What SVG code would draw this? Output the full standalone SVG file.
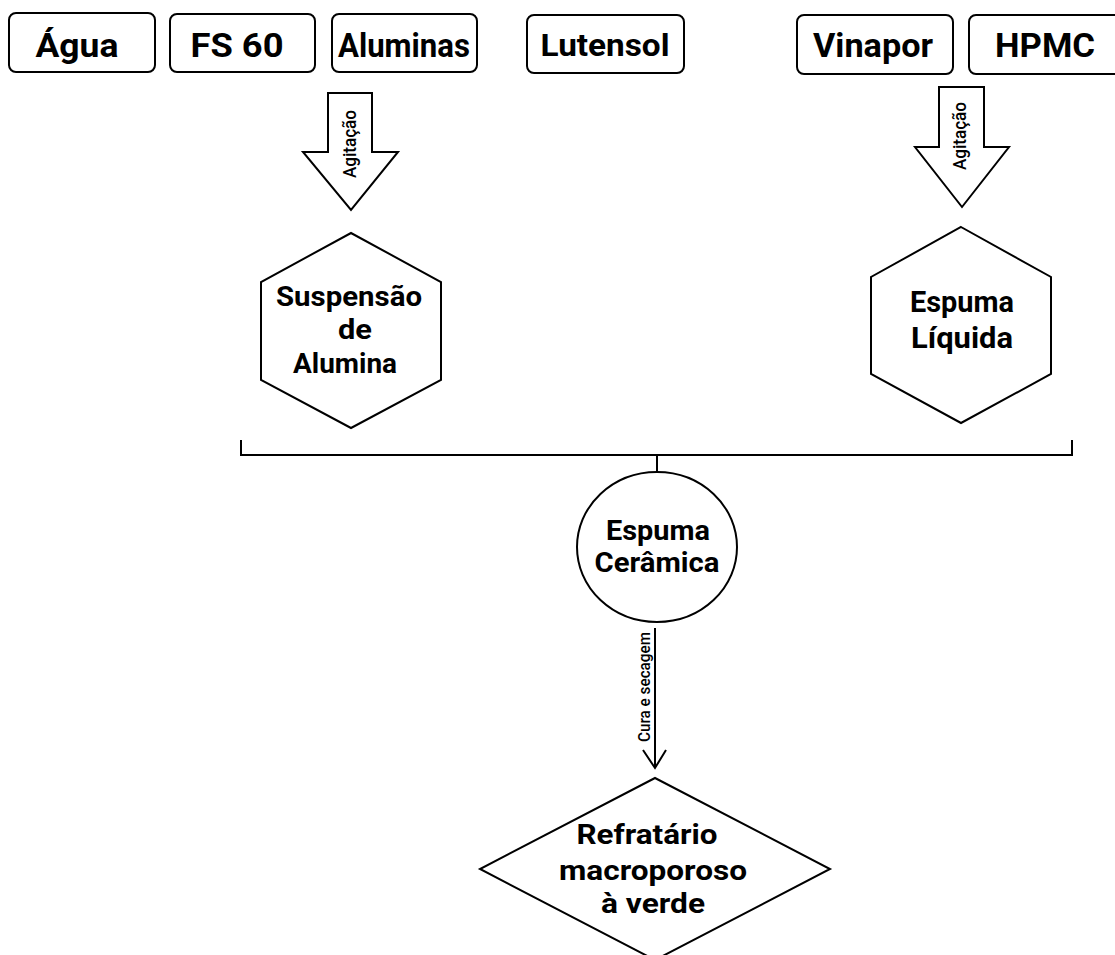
<svg xmlns="http://www.w3.org/2000/svg" width="1115" height="955" viewBox="0 0 1115 955">
<style>
.box{fill:#fff;stroke:#000;stroke-width:2}
.shape{fill:#fff;stroke:#000;stroke-width:2}
.t{font-family:Roboto,"Liberation Sans",Arial,sans-serif;font-weight:bold;fill:#000;text-anchor:middle}
.s{font-family:Roboto,"Liberation Sans",Arial,sans-serif;font-weight:500;fill:#000;text-anchor:middle}
.ln{fill:none;stroke:#000;stroke-width:2}
</style>
<rect width="1115" height="955" fill="#fff"/>
<g id="agua"><rect class="box" x="9" y="13" width="146" height="59" rx="7"/><text class="t" x="77" y="57" font-size="34" textLength="83" lengthAdjust="spacingAndGlyphs">Água</text></g>
<g id="fs60"><rect class="box" x="170" y="14" width="145" height="58" rx="7"/><text class="t" x="237" y="57" font-size="34" textLength="93" lengthAdjust="spacingAndGlyphs">FS 60</text></g>
<g id="aluminas"><rect class="box" x="332" y="14" width="145" height="58" rx="7"/><text class="t" x="404" y="57" font-size="33" textLength="132" lengthAdjust="spacingAndGlyphs">Aluminas</text></g>
<g id="lutensol"><rect class="box" x="527" y="15" width="157" height="58" rx="7"/><text class="t" x="605" y="56" font-size="31" textLength="129" lengthAdjust="spacingAndGlyphs">Lutensol</text></g>
<g id="vinapor"><rect class="box" x="797" y="15" width="156" height="59" rx="7"/><text class="t" x="873" y="57" font-size="33" textLength="120" lengthAdjust="spacingAndGlyphs">Vinapor</text></g>
<g id="hpmc"><rect class="box" x="969" y="15" width="160" height="59" rx="7"/><text class="t" x="1045" y="57" font-size="33" textLength="100" lengthAdjust="spacingAndGlyphs">HPMC</text></g>
<g id="connectors">
<g id="agitacao1"><polygon class="shape" points="328,93 372,93 372,152 398,152 351,210 303,152 328,152"/><text class="s" font-size="18" textLength="68" lengthAdjust="spacingAndGlyphs" transform="translate(356,144) rotate(-90)">Agitação</text></g>
<g id="agitacao2"><polygon class="shape" points="939,87 984,87 984,147 1009,147 962,207 915,147 939,147"/><text class="s" font-size="18" textLength="68" lengthAdjust="spacingAndGlyphs" transform="translate(966,136) rotate(-90)">Agitação</text></g>
<polyline class="ln" points="241,440 241,455 1072,455 1072,440"/>
<line class="ln" x1="657" y1="455" x2="657" y2="472"/>
<line class="ln" x1="655" y1="628" x2="655" y2="768"/>
<polyline class="ln" points="643,750 655,768 666,750"/>
<text class="s" font-size="16" textLength="110" lengthAdjust="spacingAndGlyphs" transform="translate(650,687) rotate(-90)">Cura e secagem</text>
</g>
<g id="suspensao"><polygon class="shape" points="351,233 441,282 441,380 351,428 261,380 261,282"/>
<text class="t" font-size="28" x="349" y="306" textLength="146" lengthAdjust="spacingAndGlyphs">Suspensão</text><text class="t" font-size="28" x="355" y="339" textLength="34" lengthAdjust="spacingAndGlyphs">de</text><text class="t" font-size="28" x="345" y="373" textLength="104" lengthAdjust="spacingAndGlyphs">Alumina</text></g>
<g id="espumaliquida"><polygon class="shape" points="961,227 1051,277 1051,374 961,423 871,374 871,277"/>
<text class="t" font-size="29" x="962" y="312" textLength="104" lengthAdjust="spacingAndGlyphs">Espuma</text><text class="t" font-size="29" x="962" y="348" textLength="102" lengthAdjust="spacingAndGlyphs">Líquida</text></g>
<g id="espumaceramica"><ellipse class="shape" cx="657" cy="547" rx="80" ry="75"/>
<text class="t" font-size="28" x="658" y="540" textLength="104" lengthAdjust="spacingAndGlyphs">Espuma</text><text class="t" font-size="28" x="657" y="572" textLength="125" lengthAdjust="spacingAndGlyphs">Cerâmica</text></g>
<g id="refratario"><polygon class="shape" points="655,778 830,869 655,960 480,869"/>
<text class="t" font-size="28" x="647" y="844" textLength="141" lengthAdjust="spacingAndGlyphs">Refratário</text><text class="t" font-size="28" x="653" y="880" textLength="188" lengthAdjust="spacingAndGlyphs">macroporoso</text><text class="t" font-size="28" x="653" y="913" textLength="104" lengthAdjust="spacingAndGlyphs">à verde</text></g>
</svg>
